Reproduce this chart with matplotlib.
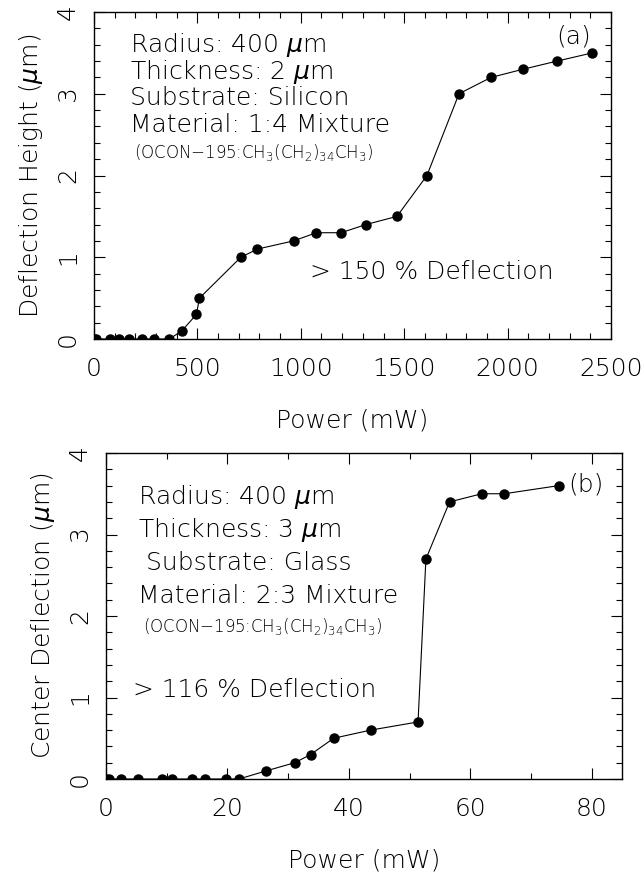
import matplotlib
matplotlib.use("Agg")
import matplotlib.pyplot as plt
from matplotlib.ticker import MultipleLocator

plt.rcParams['font.family'] = ['DejaVu Sans']
plt.rcParams['font.weight'] = 'light'
plt.rcParams['axes.labelweight'] = 'light'
plt.rcParams['mathtext.fontset'] = 'dejavusans'

# Panel (a): 2 um membrane on silicon
power_a = [0, 10, 75, 120, 170, 230, 290, 365, 425, 495, 510, 710, 790, 965,
           1075, 1195, 1315, 1465, 1610, 1765, 1920, 2075, 2240, 2410]
defl_a = [0, 0, 0, 0, 0, 0, 0, 0, 0.1, 0.3, 0.5, 1.0, 1.1, 1.2,
          1.3, 1.3, 1.4, 1.5, 2.0, 3.0, 3.2, 3.3, 3.4, 3.5]

# Panel (b): 3 um membrane on glass
power_b = [0, 0.5, 2.5, 5.3, 9.2, 10.9, 14.1, 16.3, 19.7, 21.9, 26.4, 31.1,
           33.7, 37.5, 43.6, 51.4, 52.7, 56.6, 61.9, 65.6, 74.6]
defl_b = [0, 0, 0, 0, 0, 0, 0, 0, 0, 0, 0.1, 0.2,
          0.3, 0.5, 0.6, 0.7, 2.7, 3.4, 3.5, 3.5, 3.6]

info_a = ['Radius: 400 $\\mu$m', 'Thickness: 2 $\\mu$m', 'Substrate: Silicon',
          'Material: 1:4 Mixture']
info_b = ['Radius: 400 $\\mu$m', 'Thickness: 3 $\\mu$m', ' Substrate: Glass',
          'Material: 2:3 Mixture']
formula = '(OCON$-$195:CH$_3$(CH$_2$)$_{34}$CH$_3$)'

fig = plt.figure(figsize=(6.43, 8.73), dpi=100)
ax1 = fig.add_axes([94 / 643, 534 / 873, 517 / 643, 327 / 873])
ax2 = fig.add_axes([106 / 643, 94 / 873, 516 / 643, 326 / 873])

FS = 18


def style(ax, xmaj, xmin):
    ax.xaxis.set_major_locator(MultipleLocator(xmaj))
    ax.xaxis.set_minor_locator(MultipleLocator(xmin))
    ax.yaxis.set_major_locator(MultipleLocator(1))
    ax.yaxis.set_minor_locator(MultipleLocator(0.2))
    ax.tick_params(which='both', direction='in', top=True, right=True,
                   width=0.8, colors='black')
    ax.tick_params(which='major', length=8)
    ax.tick_params(which='minor', length=4)
    ax.tick_params(axis='x', which='major', labelsize=18, pad=13)
    ax.tick_params(axis='y', which='major', labelsize=18, pad=10)
    for lab in ax.get_yticklabels():
        lab.set_rotation(90)
        lab.set_va('center')
        lab.set_ha('right')
    for sp in ax.spines.values():
        sp.set_linewidth(1.0)


ax1.plot(power_a, defl_a, '-o', color='black', lw=0.8, ms=6.5)
ax1.set_xlim(0, 2500)
ax1.set_ylim(0, 4)
style(ax1, 500, 100)
ax1.set_xlabel('Power (mW)', fontsize=FS, labelpad=20)
ax1.set_ylabel('Deflection Height ($\\mu$m)', fontsize=FS, labelpad=8)

for t, y in zip(info_a, [0.899, 0.817, 0.737, 0.654]):
    ax1.text(0.0696, y, t, transform=ax1.transAxes, fontsize=FS,
             va='center', ha='left')
ax1.text(0.077, 0.569, formula, transform=ax1.transAxes, fontsize=12,
         va='center', ha='left')
ax1.text(0.962, 0.925, '(a)', transform=ax1.transAxes, fontsize=FS,
         va='center', ha='right')
ax1.text(0.418, 0.205, '> 150 % Deflection', transform=ax1.transAxes,
         fontsize=FS, va='center', ha='left')

ax2.plot(power_b, defl_b, '-o', color='black', lw=0.8, ms=6.5)
ax2.set_xlim(0, 85)
ax2.set_ylim(0, 4)
style(ax2, 20, 10)
ax2.set_xlabel('Power (mW)', fontsize=FS, labelpad=20)
ax2.set_ylabel('Center Deflection ($\\mu$m)', fontsize=FS, labelpad=8)

for t, y in zip(info_b, [0.865, 0.764, 0.663, 0.561]):
    ax2.text(0.062, y, t, transform=ax2.transAxes, fontsize=FS,
             va='center', ha='left')
ax2.text(0.072, 0.469, formula, transform=ax2.transAxes, fontsize=12,
         va='center', ha='left')
ax2.text(0.895, 0.902, '(b)', transform=ax2.transAxes, fontsize=FS,
         va='center', ha='left')
ax2.text(0.052, 0.273, '> 116 % Deflection', transform=ax2.transAxes,
         fontsize=FS, va='center', ha='left')

fig.savefig('out.png', dpi=100)
